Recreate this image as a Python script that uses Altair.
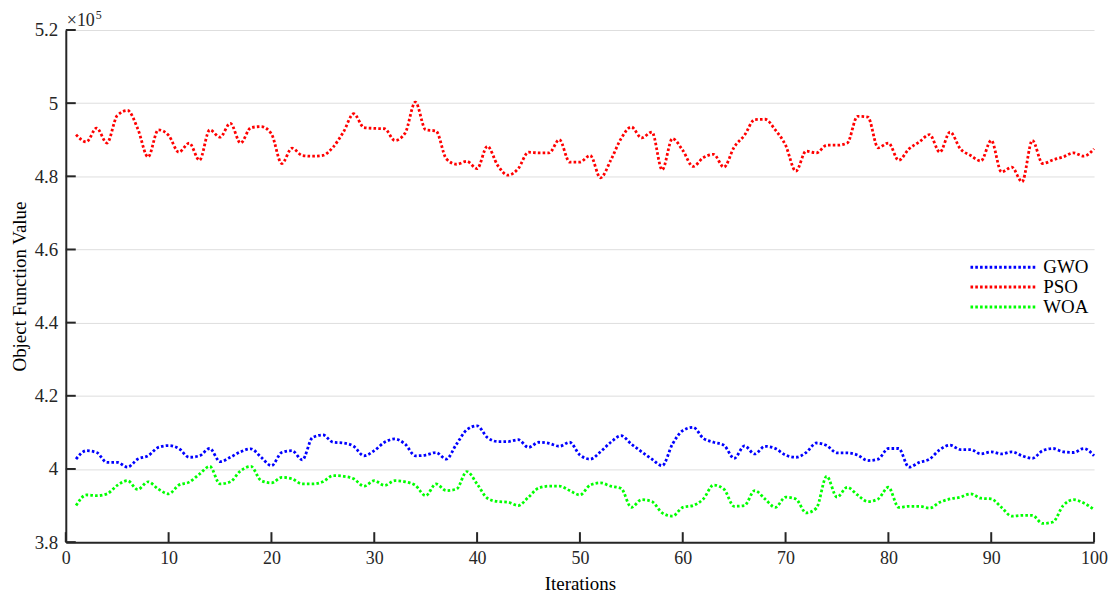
import altair as alt
import pandas as pd

iterations = list(range(1, 101))

gwo = [4.027, 4.050, 4.045, 4.018, 4.018, 4.005, 4.027, 4.036, 4.059, 4.064,
       4.056, 4.032, 4.036, 4.056, 4.020, 4.032, 4.047, 4.055, 4.032, 4.009,
       4.045, 4.050, 4.025, 4.086, 4.093, 4.073, 4.071, 4.062, 4.036, 4.050,
       4.073, 4.082, 4.068, 4.036, 4.038, 4.045, 4.027, 4.068, 4.107, 4.118,
       4.086, 4.075, 4.075, 4.080, 4.059, 4.073, 4.070, 4.062, 4.073, 4.038,
       4.027, 4.047, 4.073, 4.091, 4.068, 4.047, 4.027, 4.009, 4.068, 4.105,
       4.114, 4.084, 4.073, 4.065, 4.029, 4.063, 4.041, 4.062, 4.056, 4.038,
       4.032, 4.045, 4.071, 4.064, 4.044, 4.044, 4.038, 4.023, 4.027, 4.056,
       4.056, 4.005, 4.018, 4.027, 4.053, 4.065, 4.053, 4.053, 4.041, 4.047,
       4.041, 4.047, 4.036, 4.029, 4.050, 4.056, 4.047, 4.045, 4.056, 4.036]

pso = [4.914, 4.894, 4.932, 4.891, 4.966, 4.980, 4.930, 4.853, 4.927, 4.912,
       4.866, 4.891, 4.844, 4.927, 4.907, 4.945, 4.891, 4.933, 4.936, 4.916,
       4.835, 4.877, 4.857, 4.855, 4.857, 4.880, 4.921, 4.971, 4.933, 4.931,
       4.930, 4.898, 4.918, 5.003, 4.927, 4.924, 4.848, 4.833, 4.841, 4.821,
       4.882, 4.830, 4.803, 4.821, 4.866, 4.864, 4.864, 4.900, 4.839, 4.839,
       4.857, 4.796, 4.844, 4.903, 4.935, 4.905, 4.921, 4.818, 4.903, 4.871,
       4.827, 4.851, 4.860, 4.825, 4.880, 4.912, 4.955, 4.956, 4.927, 4.885,
       4.814, 4.869, 4.864, 4.885, 4.885, 4.891, 4.964, 4.962, 4.878, 4.891,
       4.844, 4.875, 4.894, 4.914, 4.866, 4.921, 4.875, 4.857, 4.842, 4.898,
       4.812, 4.825, 4.785, 4.898, 4.835, 4.845, 4.853, 4.864, 4.855, 4.875]

woa = [3.900, 3.929, 3.927, 3.932, 3.955, 3.968, 3.944, 3.965, 3.945, 3.932,
       3.956, 3.964, 3.986, 4.007, 3.959, 3.965, 3.995, 4.007, 3.968, 3.962,
       3.977, 3.973, 3.959, 3.959, 3.965, 3.982, 3.980, 3.973, 3.953, 3.968,
       3.955, 3.968, 3.965, 3.955, 3.927, 3.959, 3.941, 3.945, 3.993, 3.959,
       3.920, 3.911, 3.909, 3.900, 3.923, 3.948, 3.953, 3.953, 3.941, 3.929,
       3.956, 3.962, 3.953, 3.947, 3.895, 3.916, 3.911, 3.880, 3.871, 3.895,
       3.900, 3.918, 3.956, 3.945, 3.898, 3.900, 3.941, 3.918, 3.895, 3.923,
       3.918, 3.880, 3.893, 3.980, 3.923, 3.950, 3.929, 3.911, 3.918, 3.950,
       3.895, 3.898, 3.898, 3.893, 3.909, 3.918, 3.923, 3.932, 3.920, 3.918,
       3.895, 3.871, 3.873, 3.873, 3.851, 3.855, 3.900, 3.916, 3.907, 3.889]

series_names = ["GWO", "PSO", "WOA"]
series_colors = ["#0000ff", "#ff0000", "#00ff00"]
x_ticks = [0, 10, 20, 30, 40, 50, 60, 70, 80, 90, 100]
y_ticks = [3.8, 4.0, 4.2, 4.4, 4.6, 4.8, 5.0, 5.2]
exp_base = ["×10"]
exp_power = ["5"]

rows = []
for name, vals in zip(series_names, [gwo, pso, woa]):
    for it, v in zip(iterations, vals):
        rows.append({"iter": it, "value": v, "series": name})
df = pd.DataFrame(rows)
legend_df = pd.DataFrame({"series": series_names})

FONT = "Liberation Serif, Times New Roman, serif"
AX = "#262626"
W, H = 1032, 514
DASH = [2.6, 2.2]

xscale = alt.Scale(domain=[0, 100], nice=False, zero=False)
yscale = alt.Scale(domain=[3.8, 5.2], nice=False, zero=False)
cscale = alt.Scale(domain=series_names, range=series_colors)
legend_y = alt.Scale(type="point", domain=series_names, range=[238, 278], padding=0)

xaxis = alt.Axis(values=x_ticks, ticks=False, grid=False, domain=True, labelFlush=False,
                 domainColor=AX, domainWidth=2, labelFont=FONT, labelFontSize=18,
                 labelColor=AX, labelPadding=7, titleFont=FONT, titleFontSize=19,
                 titleFontWeight="normal", titleColor="#000000", titlePadding=8)
yaxis = alt.Axis(values=y_ticks, format=".1~f", ticks=False, grid=True, labelFlush=False,
                 gridColor="#dedede", gridWidth=1, domain=True, domainColor=AX,
                 domainWidth=2, labelFont=FONT, labelFontSize=19, labelColor=AX,
                 labelPadding=8, titleFont=FONT, titleFontSize=19,
                 titleFontWeight="normal", titleColor="#000000", titlePadding=5)

lines = alt.Chart(df).mark_line(
    strokeWidth=2.8, strokeDash=DASH, strokeCap="butt", interpolate="monotone"
).encode(
    x=alt.X("iter:Q", scale=xscale, title="Iterations", axis=xaxis),
    y=alt.Y("value:Q", scale=yscale, title="Object Function Value", axis=yaxis),
    color=alt.Color("series:N", scale=cscale, legend=None)
)

ydf = pd.DataFrame({"value": y_ticks})
xdf = pd.DataFrame({"iter": x_ticks})

ytick_rules = alt.Chart(ydf).mark_rule(color=AX, strokeWidth=2).encode(
    y=alt.Y("value:Q", scale=yscale, axis=None),
    x=alt.value(0), x2=alt.value(10)
)
xtick_rules = alt.Chart(xdf).mark_rule(color=AX, strokeWidth=2).encode(
    x=alt.X("iter:Q", scale=xscale, title="Iterations", axis=xaxis),
    y=alt.value(H), y2=alt.value(H - 10)
)

legend_lines = alt.Chart(legend_df).mark_rule(
    strokeWidth=3, strokeDash=DASH, strokeCap="butt"
).encode(
    y=alt.Y("series:N", scale=legend_y, axis=None),
    x=alt.value(908), x2=alt.value(973),
    color=alt.Color("series:N", scale=cscale, legend=None)
)
legend_text = alt.Chart(legend_df).mark_text(
    font=FONT, fontSize=19, align="left", baseline="middle", color="#000000"
).encode(
    y=alt.Y("series:N", scale=legend_y, axis=None),
    x=alt.value(981),
    text="series:N"
)

base_txt = alt.Chart(pd.DataFrame({"t": exp_base})).mark_text(
    font=FONT, fontSize=18, align="left", baseline="alphabetic", color=AX
).encode(text="t:N", x=alt.value(1), y=alt.value(-4))
pow_txt = alt.Chart(pd.DataFrame({"t": exp_power})).mark_text(
    font=FONT, fontSize=12, align="left", baseline="alphabetic", color=AX
).encode(text="t:N", x=alt.value(30), y=alt.value(-11))

chart = alt.layer(
    lines, ytick_rules, xtick_rules, legend_lines, legend_text, base_txt, pow_txt
).resolve_scale(y="independent").properties(
    width=W, height=H,
    autosize=alt.AutoSizeParams(type="none"),
    padding={"left": 58, "top": 21, "right": 14, "bottom": 56},
).configure_view(stroke=None)

chart.save("out.html", embed_options={"renderer": "svg", "actions": False})
